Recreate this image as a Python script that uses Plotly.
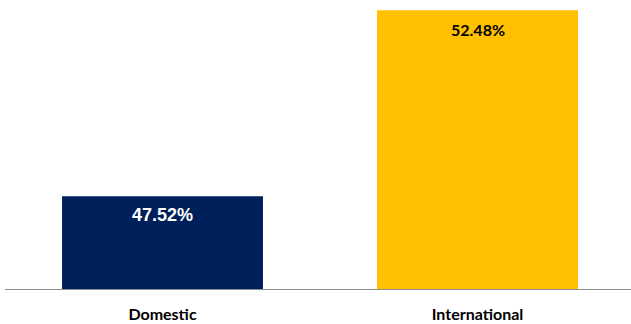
import plotly.graph_objects as go

categories = ["Domestic", "International"]
values = [47.52, 52.48]
colors = ["#00205B", "#FFC000"]
label_colors = ["#FFFFFF", "#000000"]
label_fonts = ["Liberation Sans", "Lato"]
label_sizes = [18, 16]

W, H = 631, 324
ml, mr, mt, mb = 5, 0, 0, 35
px_per_cat = 315.0
px_per_unit = 37.5
y0 = 45.05
plot_w = W - ml - mr
plot_h = H - mt - mb

fig = go.Figure(go.Bar(
    x=categories, y=values, marker_color=colors, width=0.638,
    marker_line_width=0, hoverinfo="skip",
))

for c, v, col, fam, sz in zip(categories, values, label_colors, label_fonts, label_sizes):
    fig.add_annotation(x=c, y=v, text=f"{v:.2f}%", showarrow=False,
                       yanchor="middle", yshift=-19,
                       font=dict(family=fam, size=sz, color=col, weight="bold"))

fig.update_layout(
    width=W, height=H, margin=dict(l=ml, r=mr, t=mt, b=mb),
    plot_bgcolor="white", paper_bgcolor="white", showlegend=False,
    xaxis=dict(range=[-0.5, -0.5 + plot_w / px_per_cat], showline=True,
               linecolor="#8C8C8C", linewidth=1.3, ticks="", showgrid=False,
               ticklabelstandoff=11,
               tickfont=dict(family="Lato", size=16, color="#000000", weight="bold")),
    yaxis=dict(range=[y0, y0 + plot_h / px_per_unit], visible=False, showgrid=False),
)

fig.write_html("out.html")
